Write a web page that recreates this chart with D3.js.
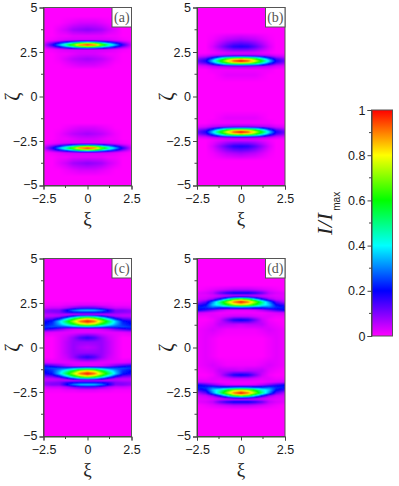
<!DOCTYPE html>
<html>
<head>
<meta charset="utf-8">
<script src="https://cdn.jsdelivr.net/npm/d3@7"></script>
<style>
html, body { margin: 0; padding: 0; background: #fff; }
svg { display: block; }
.axis text { font-family: "Liberation Sans", Arial, sans-serif; font-size: 12.5px; fill: #1a1a1a; }
.axis line, .axis path { stroke: #444; }
</style>
</head>
<body>
<div id="chart"></div>
<script>
'use strict';

// ξ positions of the value columns (right half, panels are mirrored)
const xiColumns = [0, 0.4, 0.8, 1.2, 1.6, 2.0, 2.5];

// colour map
const colorStops = [0, 0.2, 0.4, 0.6, 0.8, 1];
const colorValues = ['#ff00ff', '#0000ff', '#00ffff', '#00ff00', '#ffff00', '#ff0000'];

const xiTicks = [-2.5, 0, 2.5];
const zetaTicks = [-5, -2.5, 0, 2.5, 5];
const xiMinor = [-1.25, 1.25];
const zetaMinor = [-3.75, -1.25, 1.25, 3.75];
const barTicks = [0, 0.2, 0.4, 0.6, 0.8, 1];
const barMinor = [0.1, 0.3, 0.5, 0.7, 0.9];
const panelNames = ['(a)', '(b)', '(c)', '(d)'];

// upper half of each panel: ζ rows and I/Imax per column
const rowsA = [0, 1.5, 1.75, 2.1, 2.4, 2.62, 2.71, 2.8, 2.9, 3.0, 3.09, 3.18, 3.4, 3.75, 4.15, 4.5, 5];
const valuesA = [
  [0, 0, 0, 0, 0, 0, 0],
  [0, 0, 0, 0, 0, 0, 0],
  [.03, .03, .02, .01, 0, 0, 0],
  [.07, .06, .05, .03, .01, 0, 0],
  [.03, .03, .02, .01, .01, 0, 0],
  [.03, .03, .03, .03, .02, .01, 0],
  [.25, .24, .18, .12, .08, .04, .01],
  [.72, .64, .47, .34, .22, .11, .02],
  [1, .94, .7, .5, .34, .17, .03],
  [.72, .64, .47, .34, .22, .11, .02],
  [.25, .24, .18, .12, .08, .04, .01],
  [.03, .03, .03, .03, .02, .01, 0],
  [.02, .02, .02, .01, .01, 0, 0],
  [.09, .08, .07, .04, .02, 0, 0],
  [.03, .03, .02, .01, 0, 0, 0],
  [0, 0, 0, 0, 0, 0, 0],
  [0, 0, 0, 0, 0, 0, 0]
];

const rowsB = [0, .8, 1.2, 1.5, 1.7, 1.8, 1.9, 2, 2.1, 2.2, 2.3, 2.45, 2.8, 3.2, 3.6, 5];
const valuesB = [
  [0, 0, 0, 0, 0, 0, 0],
  [0, 0, 0, 0, 0, 0, 0],
  [.02, .02, .02, .01, 0, 0, 0],
  [.01, .01, .01, .01, .01, 0, 0],
  [.08, .08, .07, .06, .05, .03, .02],
  [.45, .43, .38, .28, .16, .08, .05],
  [.85, .8, .66, .48, .3, .15, .09],
  [1, .94, .78, .58, .38, .18, .11],
  [.85, .8, .66, .48, .3, .15, .09],
  [.45, .43, .38, .28, .16, .08, .05],
  [.08, .08, .07, .06, .05, .03, .02],
  [.03, .03, .03, .02, .01, 0, 0],
  [.18, .17, .13, .08, .03, 0, 0],
  [.07, .06, .05, .03, .01, 0, 0],
  [0, 0, 0, 0, 0, 0, 0],
  [0, 0, 0, 0, 0, 0, 0]
];

const rowsC = [0, .3, .55, .85, 1.05, 1.15, 1.3, 1.47, 1.62, 1.75, 1.85, 1.97, 2.09, 2.22, 2.38, 2.6, 5];
const valuesC = [
  [.05, .06, .08, .05, .02, 0, 0],
  [.08, .08, .08, .05, .02, 0, 0],
  [.17, .14, .08, .04, .02, 0, 0],
  [.02, .02, .02, .02, .02, .02, .03],
  [.03, .03, .04, .07, .12, .16, .2],
  [.35, .32, .28, .25, .25, .26, .24],
  [.8, .74, .58, .44, .33, .24, .2],
  [1, .93, .75, .55, .37, .22, .18],
  [.8, .72, .55, .36, .2, .12, .1],
  [.38, .34, .24, .12, .06, .05, .05],
  [.03, .03, .03, .04, .06, .05, .05],
  [.2, .2, .19, .16, .1, .09, .08],
  [.38, .37, .31, .2, .1, .1, .08],
  [.14, .13, .1, .06, .04, .04, .03],
  [.03, .03, .02, .02, .01, .01, .01],
  [0, 0, 0, 0, 0, 0, 0],
  [0, 0, 0, 0, 0, 0, 0]
];

const rowsD = [0, .5, 1, 1.3, 1.55, 1.75, 1.95, 2.1, 2.25, 2.4, 2.57, 2.7, 2.82, 2.92, 3.05, 3.25, 3.5, 5];
const valuesD = [
  [0, 0, 0, 0, .01, .02, .01],
  [0, 0, 0, 0, .01, .02, .01],
  [.01, .01, .01, .02, .03, .02, .01],
  [.04, .05, .05, .05, .02, .01, 0],
  [.2, .18, .11, .04, .01, 0, 0],
  [.04, .04, .03, .02, .02, .01, .01],
  [.01, .01, .01, .01, .02, .03, .04],
  [.02, .02, .03, .06, .1, .15, .2],
  [.28, .27, .25, .25, .28, .24, .22],
  [.8, .74, .6, .45, .36, .2, .14],
  [1, .92, .72, .5, .3, .12, .05],
  [.74, .64, .42, .22, .09, .04, .03],
  [.22, .2, .13, .07, .04, .03, .02],
  [.04, .04, .04, .04, .03, .02, .02],
  [.2, .2, .17, .12, .05, .03, .02],
  [.05, .05, .04, .03, .02, .01, 0],
  [0, 0, 0, 0, 0, 0, 0],
  [0, 0, 0, 0, 0, 0, 0]
];

const panelRows = [rowsA, rowsB, rowsC, rowsD];
const panelValues = [valuesA, valuesB, valuesC, valuesD];

const width = 399;
const height = 486;
const panelW = 88;
const panelH = 178;
const panelX = [43.5, 197, 43.5, 197];
const panelY = [7.5, 7.5, 258.5, 258.5];

let color = d3.scaleLinear().domain(colorStops).range(colorValues).clamp(true);

let svg = d3.select('#chart').append('svg')
    .attr('width', width)
    .attr('height', height);

let defs = svg.append('defs');
defs.append('filter').attr('id', 'soft')
    .attr('x', 0).attr('y', 0).attr('width', 1).attr('height', 1)
    .append('feGaussianBlur').attr('stdDeviation', 0.45);

function drawPanel(i) {
    let x = d3.scaleLinear().domain([-2.5, 2.5]).range([0, panelW]);
    let y = d3.scaleLinear().domain([-5, 5]).range([panelH, 0]);
    let g = svg.append('g')
        .attr('transform', 'translate(' + panelX[i] + ',' + panelY[i] + ')');

    // one scale per value column, so the rows are looked up through d3
    let rows = panelRows[i];
    let cols = xiColumns.map(function(_, c) {
        return d3.scaleLinear().domain(rows).range(panelValues[i].map(function(r) { return r[c]; }));
    });

    let canvas = document.createElement('canvas');
    canvas.width = panelW;
    canvas.height = panelH;
    let ctx = canvas.getContext('2d');
    for (let py = 0; py < panelH; py++) {
        let zeta = Math.abs(y.invert(py + 0.5));
        let across = d3.scaleLinear().domain(xiColumns).range(cols.map(function(s) { return s(zeta); }));
        for (let px = 0; px < panelW; px++) {
            ctx.fillStyle = color(across(Math.abs(x.invert(px + 0.5))));
            ctx.fillRect(px, py, 1, 1);
        }
    }
    // magenta under the blurred image so the edges do not fade out
    g.append('rect')
        .attr('width', panelW)
        .attr('height', panelH)
        .attr('fill', colorValues[0]);
    g.append('image')
        .attr('width', panelW)
        .attr('height', panelH)
        .attr('href', canvas.toDataURL())
        .attr('filter', 'url(#soft)');

    g.append('rect')
        .attr('width', panelW)
        .attr('height', panelH)
        .attr('fill', 'none')
        .attr('stroke', '#555');

    let left = g.append('g').attr('class', 'axis')
        .call(d3.axisLeft(y).tickValues(zetaTicks).tickSize(4).tickPadding(2).tickFormat(d3.format('')));
    left.selectAll('.minor').data(zetaMinor).enter().append('line')
        .attr('class', 'minor').attr('x2', -2.5)
        .attr('y1', function(d) { return y(d); })
        .attr('y2', function(d) { return y(d); });
    // the -5 sits right above the x axis -2.5
    left.selectAll('.tick text').filter(function(d) { return d === -5; }).attr('y', -1);

    let bottom = g.append('g').attr('class', 'axis')
        .attr('transform', 'translate(0,' + panelH + ')')
        .call(d3.axisBottom(x).tickValues(xiTicks).tickSize(4).tickPadding(4.5).tickFormat(d3.format('')));
    bottom.selectAll('.minor').data(xiMinor).enter().append('line')
        .attr('class', 'minor').attr('y2', 2.5)
        .attr('x1', function(d) { return x(d); })
        .attr('x2', function(d) { return x(d); });

    // panel letter
    g.append('rect')
        .attr('x', panelW - 19.5).attr('y', 0)
        .attr('width', 19.5).attr('height', 19.5)
        .attr('fill', '#fff').attr('stroke', '#555');
    g.append('text')
        .attr('x', panelW - 9.7).attr('y', 14.5)
        .attr('text-anchor', 'middle')
        .attr('font-family', '"Liberation Serif", serif')
        .attr('font-size', 14)
        .attr('fill', '#555')
        .text(panelNames[i]);

    g.append('text')
        .attr('x', x(0)).attr('y', panelH + 39)
        .attr('text-anchor', 'middle')
        .attr('font-family', '"Liberation Serif", serif')
        .attr('font-size', 19)
        .attr('fill', '#222')
        .text('ξ');
    g.append('text')
        .attr('transform', 'translate(-24.5,' + y(0) + ')rotate(-90)')
        .attr('text-anchor', 'middle')
        .attr('font-family', '"Liberation Serif", serif')
        .attr('font-size', 20)
        .attr('fill', '#222')
        .text('ζ');
}

d3.range(4).forEach(drawPanel);

// colour bar
let barX = 371.5;
let barY = 110;
let barW = 21;
let barH = 226;
let barScale = d3.scaleLinear().domain([0, 1]).range([barH, 0]);
let grad = defs.append('linearGradient').attr('id', 'bar')
    .attr('x1', 0).attr('y1', 1).attr('x2', 0).attr('y2', 0);
grad.selectAll('stop').data(colorStops).enter().append('stop')
    .attr('offset', function(d) { return d; })
    .attr('stop-color', function(d) { return color(d); });

let bar = svg.append('g').attr('transform', 'translate(' + barX + ',' + barY + ')');
bar.append('rect')
    .attr('width', barW).attr('height', barH)
    .attr('fill', 'url(#bar)')
    .attr('stroke', '#555');
let barAxis = bar.append('g').attr('class', 'axis')
    .call(d3.axisLeft(barScale).tickValues(barTicks).tickSize(4).tickPadding(2).tickFormat(d3.format('')));
barAxis.selectAll('.minor').data(barMinor).enter().append('line')
    .attr('class', 'minor').attr('x2', -2.5)
    .attr('y1', function(d) { return barScale(d); })
    .attr('y2', function(d) { return barScale(d); });

let barTitle = svg.append('text')
    .attr('transform', 'translate(332,235)rotate(-90)')
    .attr('font-family', '"Liberation Serif", serif')
    .attr('font-size', 22)
    .attr('font-style', 'italic')
    .attr('letter-spacing', 0.5)
    .attr('fill', '#222');
barTitle.append('tspan').text('I/I');
barTitle.append('tspan')
    .attr('dy', 8)
    .attr('dx', 2)
    .attr('font-family', '"Liberation Sans", sans-serif')
    .attr('font-style', 'normal')
    .attr('font-size', 10)
    .attr('letter-spacing', 0)
    .text('max');
</script>
</body>
</html>
